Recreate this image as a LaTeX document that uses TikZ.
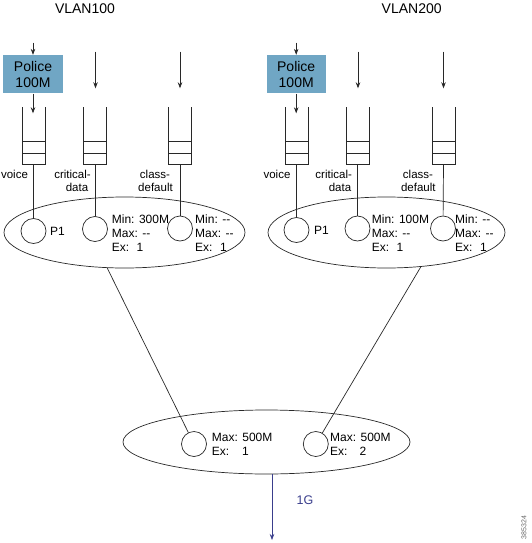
\documentclass[tikz,border=0pt]{standalone}
\usepackage{fontspec}
\setmainfont{Liberation Sans}
\usetikzlibrary{shapes.geometric,arrows.meta}
\definecolor{policefill}{RGB}{112,166,196}
\definecolor{outblue}{RGB}{58,62,140}
\definecolor{linegray}{RGB}{40,40,40}
\newcommand\fifoq[2]{%
  \draw[qline] (#2-11.5,107) -- (#2-11.5,164.3) -- (#2+11.5,164.3) -- (#2+11.5,107);
  \draw[qline] (#2-11.5,141.7) -- (#2+11.5,141.7) (#2-11.5,153.3) -- (#2+11.5,153.3);
  \coordinate (#1) at (#2,164.3);}
\begin{document}
\begin{tikzpicture}[x=1pt,y=-1pt,
  qline/.style={draw=linegray,line width=0.7pt},
  title/.style={font=\fontsize{14}{16}\selectfont,inner sep=0},
  police/.style={fill=policefill,minimum width=59.4pt,minimum height=38.3pt,inner sep=0,
    align=center,font=\fontsize{14}{16}\selectfont},
  lbl/.style={font=\fontsize{11.5}{13}\selectfont,inner sep=0,anchor=base},
  info/.style={font=\fontsize{12}{13.6}\selectfont,inner sep=0,anchor=north west,align=left},
  sched/.style={draw=linegray,ellipse,inner sep=0,line width=0.7pt},
  qcirc/.style={draw=linegray,circle,minimum size=25pt,inner sep=0,line width=0.7pt},
  arr/.style={draw=linegray,-{Stealth[length=6pt,width=4.5pt]},line width=0.7pt},
  stem/.style={draw=linegray,line width=0.7pt},
  link/.style={draw=linegray,line width=0.7pt}]
\useasboundingbox (0,0) rectangle (531,543);

% titles
\node[title] (t1) at (85,8.3) {VLAN100};
\node[title] (t2) at (411.7,8.3) {VLAN200};

% police boxes
\node[police] (p1) at (33,74.2) {Police\\100M};
\node[police] (p2) at (296.2,74.2) {Police\\100M};

% input coordinates
\coordinate (in1) at (33,42.7);
\coordinate (in2) at (296.2,42.7);
\coordinate (v1) at (33,113.3);
\coordinate (v2) at (296.2,113.3);
\coordinate (ic1) at (95.5,51.7);
\coordinate (ic1e) at (95.5,88.3);
\coordinate (id1) at (180,51.7);
\coordinate (id1e) at (180,88.3);
\coordinate (ic2) at (358,51.7);
\coordinate (ic2e) at (358,88.3);
\coordinate (id2) at (443.5,51.7);
\coordinate (id2e) at (443.5,88.3);

% queues
\fifoq{qv1}{33.5}
\fifoq{qc1}{95}
\fifoq{qd1}{180}
\fifoq{qv2}{296.5}
\fifoq{qc2}{357.5}
\fifoq{qd2}{443.5}

\draw[arr] (in1) -- (p1.north);
\draw[arr] (p1.south) -- (v1);
\draw[arr] (in2) -- (p2.north);
\draw[arr] (p2.south) -- (v2);
\draw[arr] (ic1) -- (ic1e);
\draw[arr] (id1) -- (id1e);
\draw[arr] (ic2) -- (ic2e);
\draw[arr] (id2) -- (id2e);

% labels
\node[lbl] (lv1) at (14.5,178.3) {voice};
\node[lbl] (lc1a) at (72.5,178.3) {critical-};
\node[lbl] (lc1b) at (77,191.7) {data};
\node[lbl] (ld1a) at (155,178.3) {class-};
\node[lbl] (ld1b) at (155.5,191.7) {default};
\node[lbl] (lv2) at (277,178.3) {voice};
\node[lbl] (lc2a) at (333.7,178.3) {critical-};
\node[lbl] (lc2b) at (340,191.7) {data};
\node[lbl] (ld2a) at (418,178.3) {class-};
\node[lbl] (ld2b) at (418.3,191.7) {default};

% schedulers
\node[sched,minimum width=241pt,minimum height=71pt] (e1) at (124.5,232.5) {};
\node[sched,minimum width=237pt,minimum height=71pt] (e2) at (386.5,232.5) {};
\node[sched,minimum width=287pt,minimum height=64pt] (e3) at (266.5,442) {};

% queue circles
\node[qcirc] (cv1) at (33.5,231) {};
\node[qcirc] (cc1) at (95,229) {};
\node[qcirc] (cd1) at (180,228.5) {};
\node[qcirc] (cv2) at (296.5,230) {};
\node[qcirc] (cc2) at (357.5,228.5) {};
\node[qcirc] (cd2) at (443,228.5) {};
\node[qcirc] (b1) at (194,444) {};
\node[qcirc] (b2) at (315.8,444) {};

\draw[stem] (qv1) -- (cv1);
\draw[stem] (qc1) -- (cc1);
\draw[stem] (qd1) -- (cd1);
\draw[stem] (qv2) -- (cv2);
\draw[stem] (qc2) -- (cc2);
\draw[stem] (qd2) -- (cd2);

% circle texts
\node[inner sep=0,anchor=west,font=\fontsize{12}{13.6}\selectfont] (pp1) at (50,231.5) {P1};
\node[inner sep=0,anchor=west,font=\fontsize{12}{13.6}\selectfont] (pp2) at (314,230.5) {P1};
\node[info] (i1) at (111.7,215) {Min: 300M\\Max: -{}-\\Ex:\hspace{7.5pt}1};
\node[info] (i2) at (195,215) {Min: -{}-\\Max: -{}-\\Ex:\hspace{7.5pt}1};
\node[info] (i3) at (371.7,215) {Min: 100M\\Max: -{}-\\Ex:\hspace{7.5pt}1};
\node[info] (i4) at (455,215) {Min: -{}-\\Max: -{}-\\Ex:\hspace{7.5pt}1};
\node[info] (i5) at (211.7,433.3) {Max: 500M\\Ex:\hspace{13pt}1};
\node[info] (i6) at (330,433.3) {Max: 500M\\Ex:\hspace{12pt}2};

% links
\draw[link] (e1.-116) -- (b1);
\draw[link] (e2.-45) -- (b2);

% output
\coordinate (out) at (272,540);
\draw[draw=outblue,-{Stealth[length=6pt,width=4.5pt]},line width=0.7pt] (out |- e3.south) -- (out);
\node[inner sep=0,text=outblue,font=\fontsize{12.5}{14}\selectfont] (g) at (305,500) {1G};

\node[inner sep=0,rotate=90,text=black!60,font=\fontsize{7}{8}\selectfont] (code) at (524,527.5) {385324};
\end{tikzpicture}
\end{document}
